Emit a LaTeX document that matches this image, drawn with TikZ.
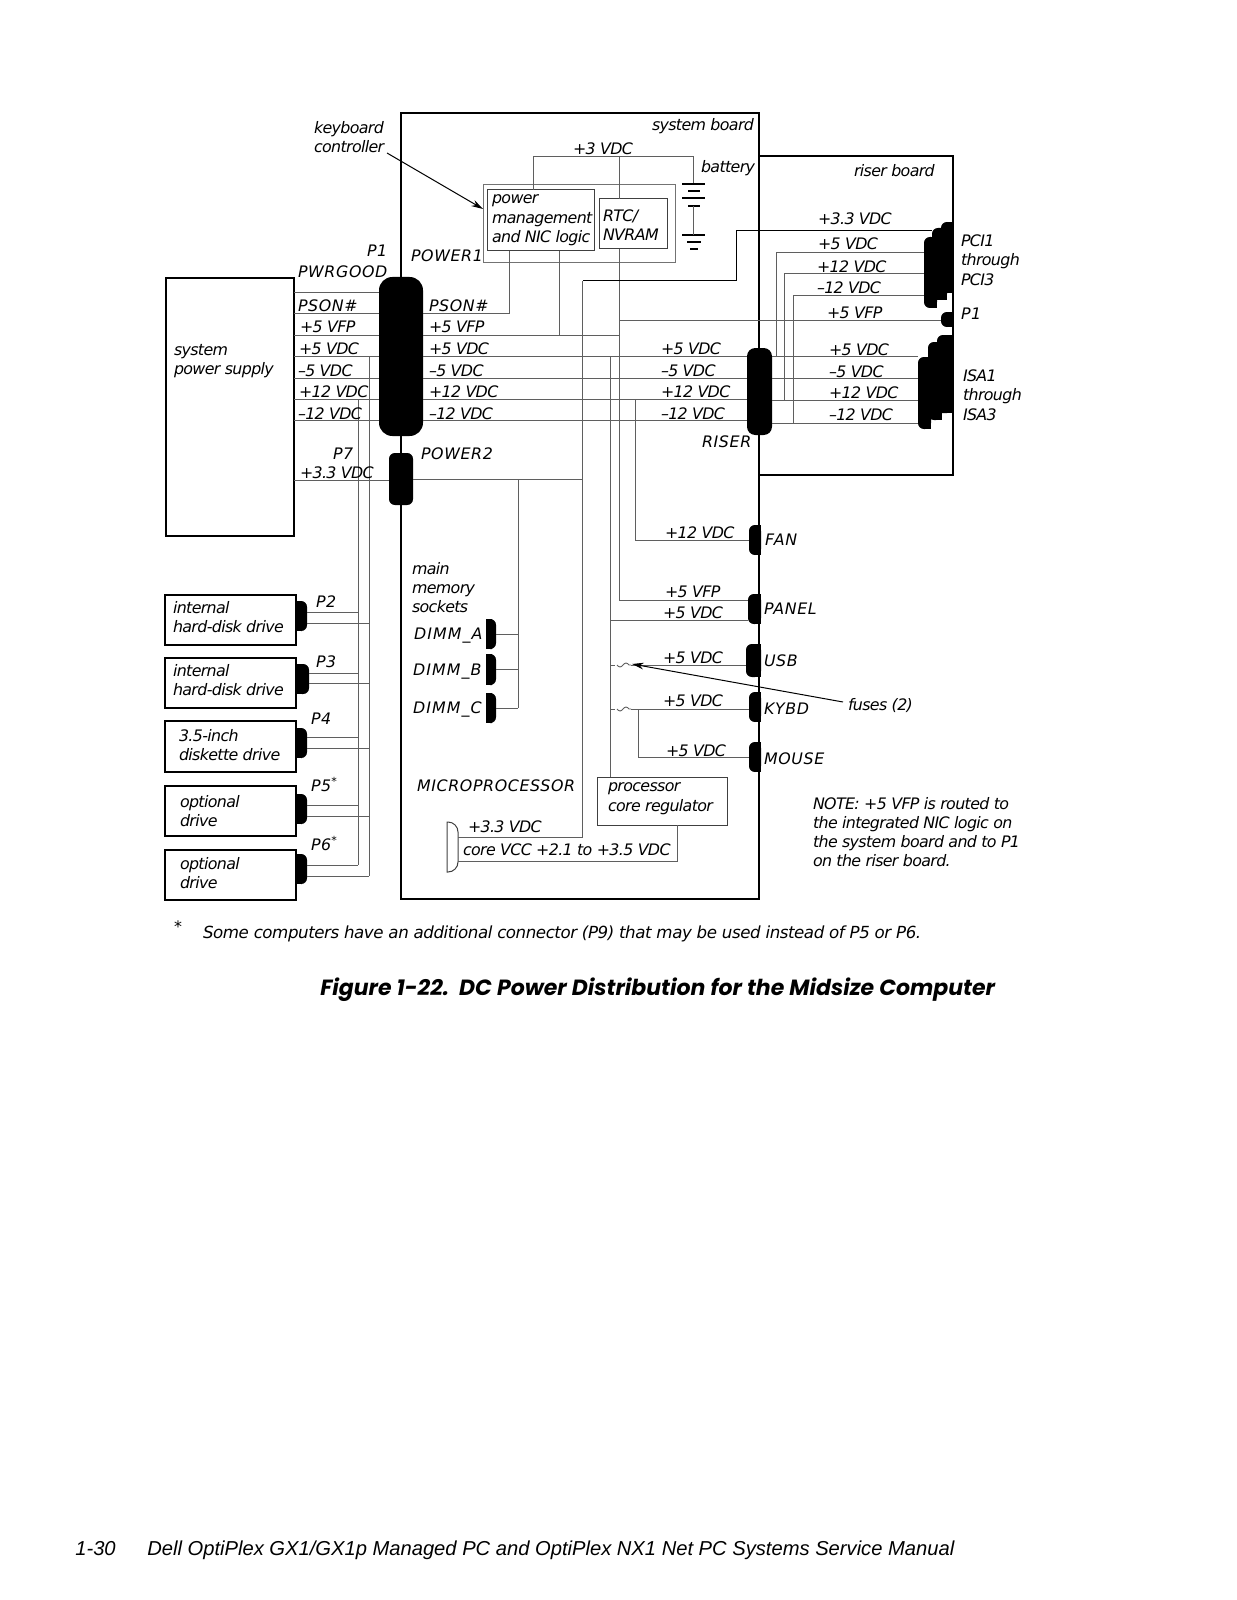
\documentclass[tikz,border=0pt]{standalone}
\usepackage{fontspec}
\setmainfont{DejaVu Sans}
\newfontfamily\capfont{Poppins}
\newfontfamily\footfont{Liberation Sans}
\usetikzlibrary{arrows.meta,fit}
\definecolor{wiregray}{RGB}{95,95,95}
\tikzstyle{wire}=[line width=0.55pt,draw=wiregray]
\tikzstyle{blackwire}=[line width=0.6pt,draw=black]
\tikzstyle{pbox}=[draw=black,line width=0.9pt,inner sep=0pt,outer sep=0pt]
\tikzstyle{thinbox}=[draw=black!75,line width=0.6pt,inner sep=0pt,outer sep=0pt]
\tikzstyle{port}=[fill=black,rounded corners=3.5pt,inner sep=0pt,outer sep=0pt]
\tikzstyle{lbl}=[anchor=north west,inner sep=0pt,outer sep=0pt,align=left,yshift=8.4pt,
                 font=\fontsize{9.5}{11.5}\selectfont\itshape\addfontfeature{LetterSpace=-4},
                 execute at begin node=\strut]
\tikzstyle{caplbl}=[lbl,font=\fontsize{9.5}{11.5}\selectfont\itshape\addfontfeature{LetterSpace=4}]
\tikzstyle{dimmlbl}=[lbl,font=\fontsize{9.5}{11.5}\selectfont\itshape\addfontfeature{LetterSpace=7}]
\tikzstyle{footlbl}=[lbl,font=\fontsize{10}{12}\selectfont\itshape\addfontfeature{LetterSpace=-2.7}]
\tikzstyle{arrow}=[-{Stealth[length=7pt,width=4pt]},line width=0.6pt,draw=black]

\begin{document}
\begin{tikzpicture}[x=0.6pt,y=-0.6pt]
  \useasboundingbox (0,0) rectangle (1237,1600);
  % boards and boxes
  \node[pbox,fit={(759,156) (953,475)}] (riserbd) {};
  \node[pbox,line width=1.1pt,fit={(401,113) (759,899)}] (sysbd) {};
  \node[pbox,fit={(166,278) (294,536)}] (psu) {};
  \node[pbox,fit={(165,595) (296,645)}] (hdda) {};
  \node[pbox,fit={(165,658) (296,708)}] (hddb) {};
  \node[pbox,fit={(165,721) (296,772)}] (fdd) {};
  \node[pbox,fit={(165,786) (296,836)}] (opta) {};
  \node[pbox,fit={(165,850) (296,900)}] (optb) {};
  \node[thinbox,draw=black!55,fit={(483,185) (675,263)}] (logic) {};
  \node[thinbox,fit={(487,190) (594,251)}] (pmgmt) {};
  \node[thinbox,fit={(599,199) (667,249)}] (rtc) {};
  \node[thinbox,fit={(597,777) (727,825)}] (regul) {};

  % connectors, both sides round
  \node[port,rounded corners=8pt,fit={(379,277) (423,436)}] (pone) {};
  \node[port,fit={(389,453) (413,505)}] (ptwo) {};
  \node[port,rounded corners=5pt,fit={(747,348) (772,435)}] (riser) {};
  % connectors, flat on the right
  \foreach \nm/\xa/\xb/\ya/\yb in {fan/749/761/525/555,panel/748/761/594/624,usb/746/761/644/677,
      kybd/749/761/692/722,mouse/749/761/742/772,pcia/924/937/237/308,pcib/932/947/228/300,
      pcic/941/953/222/293,pone/941/953/312/327,isaa/918/931/357/429,isab/928/942/342/420,
      isac/937/953/335/413} {
    \node[port,fit={(\xa,\ya) (\xb,\yb)}] (\nm r) {};
    \fill (\nm r.north) rectangle (\nm r.south east);
  }
  % connectors, flat on the left
  \foreach \nm/\xb/\ya/\yb in {ptwod/307/601/631,pthree/309/664/694,pfour/307/728/758,
      pfive/307/794/824,psix/307/854/884,dimma/496/619/649,dimmb/496/654/685,dimmc/496/693/723} {
    \pgfmathsetmacro{\xa}{\xb>400 ? 486 : 296}
    \node[port,fit={(\xa,\ya) (\xb,\yb)}] (\nm) {};
    \fill (\nm.north) rectangle (\nm.south west);
  }
  \node[inner sep=0pt,outer sep=0pt,fit={(447,822) (458,872)}] (cpu) {};
  \draw[thinbox] (cpu.north west) [rounded corners=6pt] -- (cpu.north east) -- (cpu.south east)
    [sharp corners] -- (cpu.south west) -- cycle;

  % power supply to P1 and P7
  \foreach \ya in {292,313,335,356,378,399,420}
    \draw[wire] (psu.east |- 0,\ya) -- (pone.west |- 0,\ya);
  \draw[wire] (psu.east |- 0,480) -- (ptwo.west |- 0,480);

  % drive rails
  \draw[wire] (358,399) -- (358,865);
  \draw[wire] (369,356) -- (369,876);
  \foreach \nm/\ya/\yb in {ptwod/612/623,pthree/673/683,pfour/737/748,pfive/805/816,psix/865/876} {
    \draw[wire] (\nm.east |- 0,\ya) -- (358,\ya);
    \draw[wire] (\nm.east |- 0,\yb) -- (369,\yb);
  }

  % P1 to the system board
  \draw[wire] (pone.east |- 0,313) -- (509,313) -- (509,0 |- pmgmt.south);
  \draw[wire] (pone.east |- 0,335) -- (619,335);
  \draw[wire] (559,335) -- (559,0 |- pmgmt.south);
  \foreach \ya in {356,378,399,420}
    \draw[wire] (pone.east |- 0,\ya) -- (riser.west |- 0,\ya);
  \draw[wire] (533,0 |- pmgmt.north) -- (533,156) -- (693,156) -- (693,184);
  \draw[wire] (619,156) -- (619,0 |- rtc.north);
  \draw[wire] (619,0 |- rtc.south) -- (619,600) -- (panelr.west |- 0,600);
  \draw[wire] (619,320) -- (poner.west |- 0,320);

  % riser board
  \foreach \ya in {356,378,400,423}
    \draw[wire] (riser.east |- 0,\ya) -- (isaar.west |- 0,\ya);
  \draw[wire] (776,356) -- (776,252) -- (pciar.west |- 0,252);
  \draw[wire] (784,400) -- (784,273) -- (pciar.west |- 0,273);
  \draw[wire] (793,423) -- (793,295) -- (pciar.west |- 0,295);

  % +3.3 rail
  \draw[blackwire] (pcibr.west |- 0,231) -- (736,231) -- (736,281) -- (582.5,281);
  \draw[wire] (582.5,281) -- (582.5,837) -- (cpu.east |- 0,837);
  \draw[wire] (ptwo.east |- 0,479) -- (582.5,479);
  \draw[wire] (518,479) -- (518,708);
  \draw[wire] (dimma.east) -- (518,0 |- dimma.east);
  \draw[wire] (dimmb.east) -- (518,0 |- dimmb.east);
  \draw[wire] (dimmc.east) -- (518,0 |- dimmc.east);

  % +5 rail and the front panel
  \draw[wire] (610,356) -- (610,0 |- regul.north);
  \draw[wire] (635,399) |- (fanr.west);
  \draw[wire] (610,620) -- (panelr.west |- 0,620);
  \foreach \ya in {665,709} {
    \draw[wire] (610,\ya) -- (615,\ya);
    \draw[wire] (617,\ya) sin ++(3,2) cos ++(3,-2) sin ++(3,-2) cos ++(3,2) -- (631,\ya);
  }
  \draw[wire] (631,665) -- (usbr.west |- 0,665);
  \draw[wire] (631,709) -- (kybdr.west |- 0,709);
  \draw[wire] (638,709) |- (mouser.west);
  \draw[wire] (cpu.east |- 0,861) -- (677,861) -- (677,0 |- regul.south);

  % battery
  \foreach \ya/\xa/\xb in {184/682/705,191/688/700,198/682/705,206/688/700,235/682/705,242/687/701,249/690/698}
    \draw[blackwire,line width=0.8pt] (\xa,\ya) -- (\xb,\ya);
  \draw[wire] (693,206) -- (693,235);

  % pointers
  \coordinate (kbtail) at (387,153);
  \coordinate (fusetail) at (843,702);
  \draw[arrow] (kbtail) -- (logic.west |- 0,209);
  \draw[arrow] (fusetail) -- (632,664);

  % labels
  \node[lbl] (kbctl) at (314,135) {keyboard\\controller};
  \node[lbl] (sysl) at (652,131) {system board};
  \node[lbl] (threev) at (573,155) {+3 VDC};
  \node[lbl] (battl) at (701,173) {battery};
  \node[lbl] (risl) at (854,177) {riser board};
  \node[lbl] (pml) at (492,209) {power\\management\\and NIC logic};
  \node[lbl] (rtcl) at (603,224) {RTC/\\NVRAM};
  \node[caplbl] (ponel) at (367,257) {P1};
  \node[caplbl] (pwrg) at (298,278) {PWRGOOD};
  \node[caplbl] (powa) at (411,262) {POWER1};
  \node[lbl] (psul) at (174,358) {system\\power supply};
  \node[caplbl] (psona) at (298,312) {PSON\#};
  \node[caplbl] (psonb) at (429,312) {PSON\#};
  \foreach \xa/\ya/\tx in {300/333/+5 VFP,299/355/+5 VDC,298/377/–5 VDC,299/398/+12 VDC,298/420/–12 VDC,
      429/333/+5 VFP,429/355/+5 VDC,429/377/–5 VDC,429/398/+12 VDC,429/420/–12 VDC,
      661/355/+5 VDC,661/377/–5 VDC,661/398/+12 VDC,661/420/–12 VDC,
      829/356/+5 VDC,829/378/–5 VDC,829/399/+12 VDC,829/421/–12 VDC,
      818/225/+3.3 VDC,818/250/+5 VDC,817/273/+12 VDC,817/294/–12 VDC,827/319/+5 VFP,
      300/479/+3.3 VDC,665/539/+12 VDC,665/598/+5 VFP,663/619/+5 VDC,663/664/+5 VDC,663/707/+5 VDC,666/757/+5 VDC}
    \node[lbl] at (\xa,\ya) {\tx};
  \node[caplbl] (psevl) at (333,460) {P7};
  \node[caplbl] (powb) at (421,460) {POWER2};
  \node[caplbl] (rislbl) at (702,448) {RISER};
  \node[lbl] (pcil) at (961,249) {PCI1\\through\\PCI3};
  \node[caplbl] (ponerl) at (961,320) {P1};
  \node[lbl] (isal) at (963,384) {ISA1\\through\\ISA3};
  \node[caplbl] (fanl) at (765,546) {FAN};
  \node[caplbl] (panell) at (764,615) {PANEL};
  \node[caplbl] (usbl) at (764,667) {USB};
  \node[caplbl] (kybdl) at (764,715) {KYBD};
  \node[caplbl] (mousel) at (764,765) {MOUSE};
  \node[lbl] (fusel) at (848,711) {fuses (2)};
  \node[lbl] (mem) at (412,576) {main\\memory\\sockets};
  \node[dimmlbl] (dal) at (414,640) {DIMM\_A};
  \node[dimmlbl] (dbl) at (413,676) {DIMM\_B};
  \node[dimmlbl] (dcl) at (413,714) {DIMM\_C};
  \node[lbl] (hddal) at (173,615) {internal\\hard-disk drive};
  \node[lbl] (hddbl) at (173,678) {internal\\hard-disk drive};
  \node[lbl] (fddl) at (179,743) {3.5-inch\\diskette drive};
  \node[lbl] (optal) at (180,809) {optional\\drive};
  \node[lbl] (optbl) at (180,871) {optional\\drive};
  \node[caplbl] (ptl) at (316,608) {P2};
  \node[caplbl] (pthl) at (316,668) {P3};
  \node[caplbl] (pfl) at (311,725) {P4};
  \node[caplbl] (pvl) at (311,791) {P5\textsuperscript{*}};
  \node[caplbl] (psl) at (311,850) {P6\textsuperscript{*}};
  \node[caplbl] (cpul) at (417,792) {MICROPROCESSOR};
  \node[lbl] (cpuv) at (468,833) {+3.3 VDC};
  \node[lbl] (corel) at (463,856) {core VCC +2.1 to +3.5 VDC};
  \node[lbl] (regl) at (608,797) {processor\\core regulator};
  \node[lbl] (notel) at (813,811) {NOTE: +5 VFP is routed to\\the integrated NIC logic on\\the system board and to P1\\on the riser board.};
  \node[lbl] (star) at (174,933) {*};
  \node[footlbl] (foot) at (203,938) {Some computers have an additional connector (P9) that may be used instead of P5 or P6.};
  \node[anchor=base west,inner sep=0pt,font=\capfont\bfseries\itshape\fontsize{13.2}{15}\selectfont] (cap) at (320,995)
    {Figure 1-22.\ \ DC Power Distribution for the Midsize Computer};
  \node[anchor=base west,inner sep=0pt,font=\footfont\itshape\fontsize{12.1}{14}\selectfont] (pg) at (75,1555) {1-30};
  \node[anchor=base west,inner sep=0pt,font=\footfont\itshape\fontsize{12.1}{14}\selectfont] (book) at (147,1555)
    {Dell OptiPlex GX1/GX1p Managed PC and OptiPlex NX1 Net PC Systems Service Manual};
\end{tikzpicture}
\end{document}
